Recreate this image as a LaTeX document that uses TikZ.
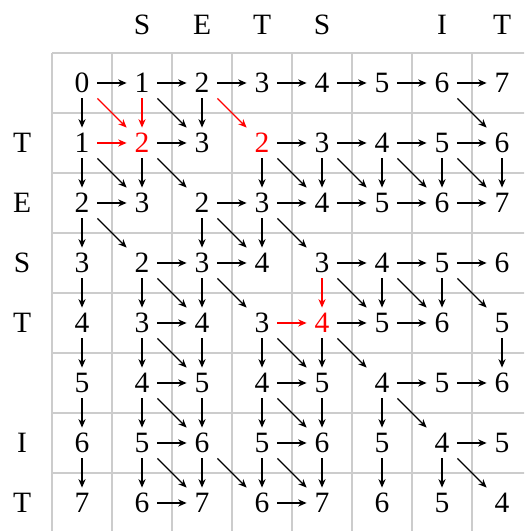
\documentclass[tikz,border=0pt]{standalone}
\usepackage{fontspec}
\setmainfont{Liberation Serif}
\usepackage{xcolor}
\usetikzlibrary{arrows.meta}
\tikzset{
  num/.style={minimum size=0.5cm, inner sep=0pt, font=\fontsize{14}{17}\selectfont},
  lbl/.style={inner sep=0pt, font=\fontsize{14}{17}\selectfont},
  gridline/.style={gray!40, line width=0.6pt},
  mv/.style={-{Stealth[length=4pt,width=3.4pt]}, line width=0.55pt, black},
  hot/.style={mv, red},
}
\newcommand{\hl}[1]{\textcolor{red}{#1}}

\begin{document}
\begin{tikzpicture}
  \clip (-1.367,1.383) rectangle (7.367,-7.467);
  \draw[gridline, shift={(-0.5,0.5)}] (0,0) grid (8,-8);
  % labels of both strings
  \foreach \j/\t in {1/S,2/E,3/T,4/S,6/I,7/T}
    \node[lbl] (top\j) at (\j,0.967) {\t};
  \foreach \i/\t in {1/T,2/E,3/S,4/T,6/I,7/T}
    \node[lbl] (side\i) at (-1,-\i) {\t};
  % table of costs
  \foreach \row [count=\i from 0] in {{0,1,2,3,4,5,6,7},{1,\hl{2},3,\hl{2},3,4,5,6},
      {2,3,2,3,4,5,6,7},{3,2,3,4,3,4,5,6},{4,3,4,3,\hl{4},5,6,5},
      {5,4,5,4,5,4,5,6},{6,5,6,5,6,5,4,5},{7,6,7,6,7,6,5,4}}{
    \foreach \v [count=\j from 0] in \row
      \node[num] (c\i\j) at (\j,-\i) {\v};
  }
  % moves
  \foreach \i/\j [evaluate=\j as \nextj using int(\j+1)] in {0/0,0/1,0/2,0/3,0/4,0/5,0/6,
      1/1,1/3,1/4,1/5,1/6,2/0,2/2,2/3,2/4,2/5,2/6,3/1,3/2,3/4,3/5,3/6,
      4/1,4/4,4/5,5/1,5/3,5/5,5/6,6/1,6/3,6/6,7/1,7/3}
    \draw[mv] (c\i\j) -- (c\i\nextj);
  \foreach \i/\j [evaluate=\i as \nexti using int(\i+1)] in {0/0,0/2,
      1/0,1/1,1/3,1/4,1/5,1/6,1/7,2/0,2/2,2/3,3/0,3/1,3/2,3/5,3/6,
      4/0,4/1,4/2,4/3,4/4,4/7,5/0,5/1,5/2,5/3,5/4,5/5,
      6/0,6/1,6/2,6/3,6/4,6/5,6/6}
    \draw[mv] (c\i\j) -- (c\nexti\j);
  \foreach \i/\j [evaluate=\i as \nexti using int(\i+1),
      evaluate=\j as \nextj using int(\j+1)] in {0/1,0/6,
      1/0,1/1,1/3,1/4,1/5,1/6,2/0,2/2,2/3,3/1,3/2,3/4,3/5,3/6,
      4/1,4/3,4/4,5/1,5/3,5/5,6/1,6/2,6/3,6/6}
    \draw[mv] (c\i\j) -- (c\nexti\nextj);
  % chosen path
  \draw[hot] (c00) -- (c11);
  \draw[hot] (c01) -- (c11);
  \draw[hot] (c10) -- (c11);
  \draw[hot] (c02) -- (c13);
  \draw[hot] (c34) -- (c44);
  \draw[hot] (c43) -- (c44);
\end{tikzpicture}
\end{document}
